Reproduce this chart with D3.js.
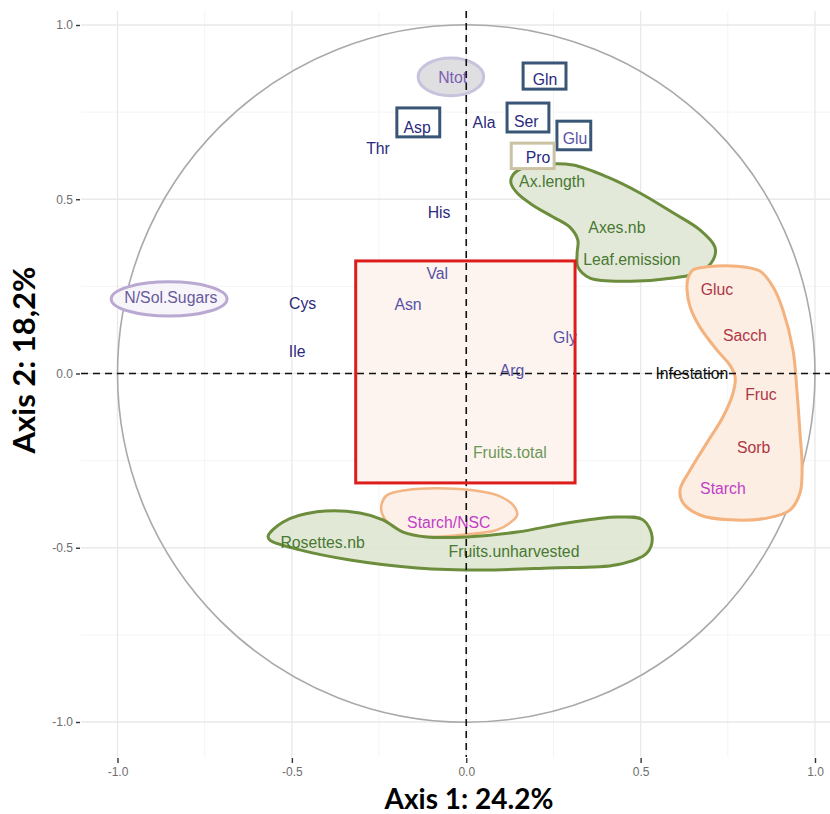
<!DOCTYPE html>
<html>
<head>
<meta charset="utf-8">
<script src="https://cdn.jsdelivr.net/npm/d3@7/dist/d3.min.js"></script>
<style>
  body { margin: 0; background: #fff; }
  text { font-family: "Liberation Sans", Arial, sans-serif; }
</style>
</head>
<body>
<svg id="chart" width="830" height="814"></svg>
<script>
// Correlation circle: variable coordinates on PCA axes 1 and 2
const tickValues = [-1.0, -0.5, 0.0, 0.5, 1.0];
const minorTickValues = [-0.75, -0.25, 0.25, 0.75];

const varNames = ["Ntot", "Gln", "Asp", "Ala", "Ser", "Glu", "Thr", "Pro", "Ax.length", "His",
  "Axes.nb", "Leaf.emission", "Val", "Cys", "Asn", "N/Sol.Sugars", "Ile", "Gly", "Arg",
  "Infestation", "Gluc", "Sacch", "Fruc", "Sorb", "Starch", "Fruits.total", "Starch/NSC",
  "Rosettes.nb", "Fruits.unharvested"];
const axis1 = [-0.039, 0.226, -0.141, 0.051, 0.172, 0.312, -0.253, 0.206, 0.246, -0.078,
  0.432, 0.475, -0.083, -0.469, -0.167, -0.847, -0.485, 0.283, 0.131,
  0.647, 0.719, 0.799, 0.845, 0.824, 0.736, 0.125, -0.050,
  -0.412, 0.137];
const axis2 = [0.848, 0.845, 0.707, 0.719, 0.724, 0.673, 0.647, 0.621, 0.550, 0.461,
  0.420, 0.326, 0.288, 0.202, 0.199, 0.217, 0.062, 0.102, 0.010,
  -0.001, 0.240, 0.108, -0.059, -0.211, -0.329, -0.228, -0.428,
  -0.484, -0.512];
const varGroup = ["ntot", "aa", "aa", "aa", "aa", "aa2", "aa", "aa", "growth", "aa",
  "growth", "growth", "aa2", "aa", "aa2", "ratio", "aa", "aa2", "aa2",
  "pest", "sugar", "sugar", "sugar", "sugar", "starch", "fruit", "starch",
  "growth", "growth"];

// Highlighted clusters (outlines in axis units)
const boxedVars = ["Gln", "Asp", "Ser", "Glu"];
const boxX0 = [0.163, -0.199, 0.117, 0.260];
const boxX1 = [0.286, -0.076, 0.237, 0.357];
const boxY0 = [0.816, 0.679, 0.693, 0.642];
const boxY1 = [0.891, 0.762, 0.776, 0.724];
const proBox = [0.129, 0.252, 0.588, 0.661];           // x0, x1, y0, y1
const centralBox = [-0.317, 0.312, -0.314, 0.323];      // x0, x1, y0, y1
const ntotEllipse = [-0.044, 0.851, 0.094, 0.054];      // cx, cy, rx, ry
const ratioEllipse = [-0.852, 0.214, 0.166, 0.049];     // cx, cy, rx, ry

const growthTopOutline = [[0.134,0.570],[0.163,0.590],[0.232,0.601],[0.306,0.598],[0.404,0.564],
  [0.498,0.518],[0.593,0.461],[0.670,0.412],[0.713,0.363],[0.708,0.326],[0.670,0.291],
  [0.593,0.274],[0.470,0.265],[0.355,0.274],[0.320,0.306],[0.318,0.346],[0.320,0.383],
  [0.297,0.420],[0.249,0.449],[0.191,0.483],[0.146,0.518],[0.128,0.547]];
const sugarOutline = [[0.636,0.274],[0.650,0.297],[0.690,0.306],[0.776,0.308],[0.842,0.294],
  [0.880,0.248],[0.908,0.182],[0.937,0.067],[0.948,-0.047],[0.957,-0.171],[0.963,-0.268],
  [0.957,-0.343],[0.928,-0.392],[0.862,-0.415],[0.756,-0.420],[0.670,-0.406],[0.622,-0.372],
  [0.613,-0.334],[0.642,-0.277],[0.690,-0.199],[0.736,-0.125],[0.765,-0.056],[0.771,-0.010],
  [0.756,0.024],[0.719,0.067],[0.670,0.133],[0.642,0.191],[0.633,0.240]];
const starchRatioOutline = [[-0.242,-0.372],[-0.227,-0.349],[-0.170,-0.334],[-0.084,-0.329],
  [0.011,-0.334],[0.088,-0.349],[0.134,-0.377],[0.146,-0.406],[0.125,-0.429],[0.088,-0.449],
  [-0.009,-0.463],[-0.124,-0.469],[-0.181,-0.458],[-0.219,-0.435],[-0.242,-0.400]];
const growthBottomOutline = [[-0.568,-0.466],[-0.525,-0.426],[-0.428,-0.397],[-0.305,-0.400],
  [-0.239,-0.420],[-0.181,-0.455],[-0.113,-0.469],[0.002,-0.469],[0.146,-0.455],[0.289,-0.429],
  [0.432,-0.412],[0.507,-0.420],[0.533,-0.469],[0.518,-0.515],[0.432,-0.549],[0.240,-0.558],
  [0.048,-0.564],[-0.141,-0.558],[-0.333,-0.535],[-0.477,-0.506],[-0.563,-0.478]];

const groupColor = {
  aa: "#2a2a7e", aa2: "#5852a6", ntot: "#7d5cb2", ratio: "#675a9c",
  growth: "#487832", fruit: "#6a9856", sugar: "#ad3646", starch: "#c23ec9", pest: "#111111"
};

const svg = d3.select("#chart");
const W = 830, H = 814;
const panel = { left: 81, right: 830, top: 11, bottom: 757 };

const x = d3.scaleLinear().domain([-1, 1]).range([117.5, 815]);
const y = d3.scaleLinear().domain([-1, 1]).range([722, 25]);

svg.append("rect").attr("width", W).attr("height", H).attr("fill", "#fff");

// grid
const grid = svg.append("g");
grid.selectAll("line.vmin").data(minorTickValues).join("line")
  .attr("x1", d => x(d)).attr("x2", d => x(d)).attr("y1", panel.top).attr("y2", panel.bottom)
  .attr("stroke", "#f4f4f4").attr("stroke-width", 1);
grid.selectAll("line.hmin").data(minorTickValues).join("line")
  .attr("y1", d => y(d)).attr("y2", d => y(d)).attr("x1", panel.left).attr("x2", panel.right)
  .attr("stroke", "#f4f4f4").attr("stroke-width", 1);
grid.selectAll("line.vmaj").data(tickValues).join("line")
  .attr("x1", d => x(d)).attr("x2", d => x(d)).attr("y1", panel.top).attr("y2", panel.bottom)
  .attr("stroke", "#e9e9e9").attr("stroke-width", 1.3);
grid.selectAll("line.hmaj").data(tickValues).join("line")
  .attr("y1", d => y(d)).attr("y2", d => y(d)).attr("x1", panel.left).attr("x2", panel.right)
  .attr("stroke", "#e9e9e9").attr("stroke-width", 1.3);

// axes
const fmt = d3.format(".1f");
const xAxis = svg.append("g").attr("transform", `translate(0,${panel.bottom + 1})`)
  .call(d3.axisBottom(x).tickValues(tickValues).tickSize(5).tickPadding(4).tickFormat(d => fmt(d).replace("−", "-")));
const yAxis = svg.append("g").attr("transform", `translate(${panel.left - 1},0)`)
  .call(d3.axisLeft(y).tickValues(tickValues).tickSize(4).tickPadding(3).tickFormat(d => fmt(d).replace("−", "-")));
[xAxis, yAxis].forEach(a => {
  a.select(".domain").remove();
  a.selectAll(".tick line").attr("stroke", "#333").attr("stroke-width", 1.4);
  a.selectAll(".tick text").attr("fill", "#6e6e6e")
    .style("font-family", "'Liberation Sans Narrow', 'Liberation Sans', sans-serif").style("font-size", "12px");
});

// unit circle
svg.append("circle").attr("cx", x(0)).attr("cy", y(0))
  .attr("r", x(1) - x(0)).attr("fill", "none").attr("stroke", "#a9a9a9").attr("stroke-width", 1.6);

const outline = d3.line().x(d => x(d[0])).y(d => y(d[1])).curve(d3.curveCatmullRomClosed.alpha(0.5));

// central box fill
svg.append("rect")
  .attr("x", x(centralBox[0])).attr("y", y(centralBox[3]))
  .attr("width", x(centralBox[1]) - x(centralBox[0])).attr("height", y(centralBox[2]) - y(centralBox[3]))
  .attr("fill", "#fdf4ef");

// cluster outlines
svg.append("path").attr("d", outline(growthTopOutline))
  .attr("fill", "#e3e9d9").attr("stroke", "#6b8d3c").attr("stroke-width", 3);
svg.append("path").attr("d", outline(sugarOutline))
  .attr("fill", "#fdeee3").attr("stroke", "#f3b27e").attr("stroke-width", 3);
svg.append("path").attr("d", outline(starchRatioOutline))
  .attr("fill", "#fdf0e8").attr("stroke", "#f2b583").attr("stroke-width", 2.5);
svg.append("path").attr("d", outline(growthBottomOutline))
  .attr("fill", "#dfe6d2").attr("fill-opacity", 0.9).attr("stroke", "#6b8d3c").attr("stroke-width", 3);

svg.append("ellipse").attr("cx", x(ntotEllipse[0])).attr("cy", y(ntotEllipse[1]))
  .attr("rx", x(ntotEllipse[2]) - x(0)).attr("ry", y(0) - y(ntotEllipse[3]))
  .attr("fill", "#dfdfe2").attr("stroke", "#c9c2dd").attr("stroke-width", 3);
svg.append("ellipse").attr("cx", x(ratioEllipse[0])).attr("cy", y(ratioEllipse[1]))
  .attr("rx", x(ratioEllipse[2]) - x(0)).attr("ry", y(0) - y(ratioEllipse[3]))
  .attr("fill", "#f7f5fa").attr("stroke", "#b9a9d2").attr("stroke-width", 3);

svg.append("g").selectAll("rect").data(boxedVars).join("rect")
  .attr("x", (d, i) => x(boxX0[i])).attr("y", (d, i) => y(boxY1[i]))
  .attr("width", (d, i) => x(boxX1[i]) - x(boxX0[i])).attr("height", (d, i) => y(boxY0[i]) - y(boxY1[i]))
  .attr("fill", "#fff").attr("stroke", "#3a5676").attr("stroke-width", 3);
svg.append("rect")
  .attr("x", x(proBox[0])).attr("y", y(proBox[3]))
  .attr("width", x(proBox[1]) - x(proBox[0])).attr("height", y(proBox[2]) - y(proBox[3]))
  .attr("fill", "#fff").attr("stroke", "#cbc2a4").attr("stroke-width", 3);

// variable labels
svg.append("g").selectAll("text").data(varNames).join("text")
  .attr("x", (d, i) => x(axis1[i])).attr("y", (d, i) => y(axis2[i]))
  .attr("text-anchor", "middle").attr("dominant-baseline", "central")
  .attr("fill", (d, i) => groupColor[varGroup[i]])
  .style("font-size", "15.8px")
  .text(d => d);

// reference lines through the origin
svg.append("line").attr("x1", x(0)).attr("x2", x(0)).attr("y1", panel.top).attr("y2", panel.bottom)
  .attr("stroke", "#111").attr("stroke-width", 1.6).attr("stroke-dasharray", "7,5");
svg.append("line").attr("y1", y(0)).attr("y2", y(0)).attr("x1", panel.left).attr("x2", panel.right)
  .attr("stroke", "#111").attr("stroke-width", 1.6).attr("stroke-dasharray", "7,5");

// central box border
svg.append("rect")
  .attr("x", x(centralBox[0])).attr("y", y(centralBox[3]))
  .attr("width", x(centralBox[1]) - x(centralBox[0])).attr("height", y(centralBox[2]) - y(centralBox[3]))
  .attr("fill", "none").attr("stroke", "#dd1c1c").attr("stroke-width", 3);

// axis titles
svg.append("text").attr("x", 469).attr("y", 809).attr("text-anchor", "middle")
  .style("font-family", "Lato, 'Open Sans', sans-serif").style("font-weight", "bold").style("font-size", "28px")
  .attr("fill", "#000").text("Axis 1: 24.2%");
svg.append("text").attr("transform", "translate(35,360) rotate(-90)").attr("text-anchor", "middle")
  .style("font-family", "Lato, 'Open Sans', sans-serif").style("font-weight", "bold").style("font-size", "31px")
  .attr("fill", "#000").text("Axis 2: 18,2%");
</script>
</body>
</html>
